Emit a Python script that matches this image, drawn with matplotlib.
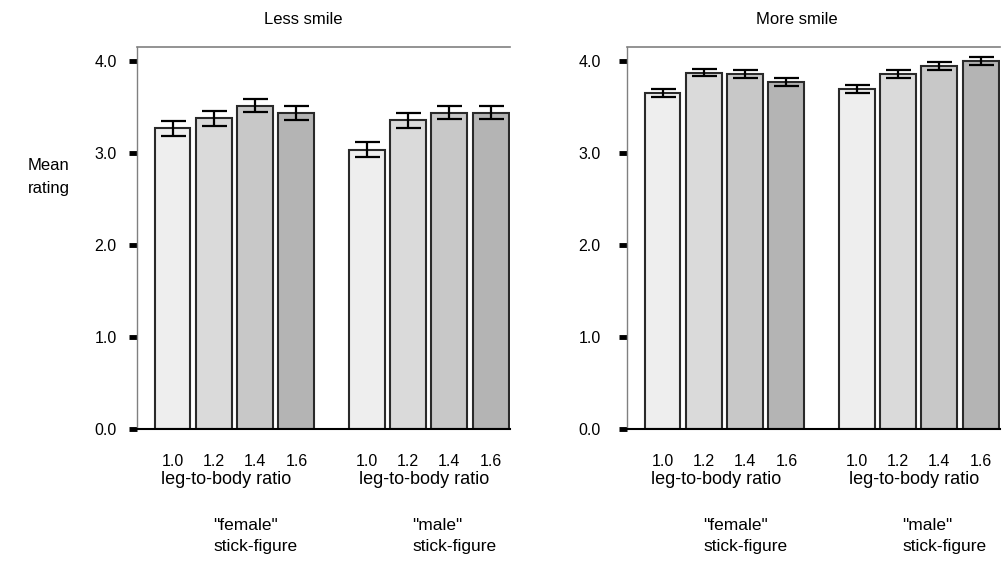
import matplotlib
matplotlib.use("Agg")
import matplotlib.pyplot as plt

plt.rcParams['font.family'] = ['Liberation Sans', 'DejaVu Sans']

# ---- data ----
ratios = ["1.0", "1.2", "1.4", "1.6"]
groups = ['"female"\nstick-figure', '"male"\nstick-figure']
panel_titles = ["Less smile", "More smile"]

less_female = [3.265, 3.375, 3.51, 3.43]
less_female_err = [0.08, 0.08, 0.07, 0.078]
less_male = [3.035, 3.355, 3.435, 3.435]
less_male_err = [0.078, 0.08, 0.072, 0.072]

more_female = [3.65, 3.87, 3.855, 3.77]
more_female_err = [0.045, 0.04, 0.043, 0.043]
more_male = [3.69, 3.855, 3.94, 4.0]
more_male_err = [0.045, 0.045, 0.043, 0.045]

yticks = [0.0, 1.0, 2.0, 3.0, 4.0]
bar_colors = ["#eeeeee", "#dadada", "#c8c8c8", "#b4b4b4"]

W, H = 1003, 561
fig = plt.figure(figsize=(W / 100, H / 100), dpi=100)

def fx(px):
    return px / W

def fy(py):
    return 1 - py / H

pos_f = [0, 1, 2, 3]
pos_m = [4.7, 5.7, 6.7, 7.7]

panels = [
    (137, less_female, less_female_err, less_male, less_male_err, 8.5),
    (627, more_female, more_female_err, more_male, more_male_err, 13),
]

for i, (x0, fv, fe, mv, me, ypad) in enumerate(panels):
    ax = fig.add_axes([fx(x0), fy(429), fx(373), (429 - 47) / H])
    for pos, vals, errs in ((pos_f, fv, fe), (pos_m, mv, me)):
        ax.bar(pos, vals, width=0.87, color=bar_colors, edgecolor="#2a2a2a",
               linewidth=1.5, zorder=2)
        ax.errorbar(pos, vals, yerr=errs, fmt="none", ecolor="black",
                    elinewidth=1.6, capsize=9, capthick=1.6, zorder=3)
    ax.set_xlim(-0.86, 8.17)
    ax.set_ylim(0, 4.15)
    ax.set_yticks(yticks)
    ax.set_yticklabels([f"{v:.1f}" for v in yticks])
    ax.set_xticks(pos_f + pos_m)
    ax.set_xticklabels(ratios + ratios)
    ax.tick_params(axis="y", direction="out", length=6, width=3.5,
                   color="black", pad=ypad, labelsize=11.5)
    ax.tick_params(axis="x", length=0, pad=18, labelsize=11.5)
    ax.spines["right"].set_visible(False)
    ax.spines["top"].set_color("#808080")
    ax.spines["top"].set_linewidth(1.2)
    ax.spines["left"].set_color("#808080")
    ax.spines["left"].set_linewidth(1.0)
    ax.spines["bottom"].set_color("black")
    ax.spines["bottom"].set_linewidth(1.5)

    off = x0 - 137
    fig.text(fx(303 + off + (4 if i else 0)), fy(20), panel_titles[i],
             ha="center", va="center", fontsize=12)
    fig.text(fx(226 + off), fy(480), "leg-to-body ratio",
             ha="center", va="center", fontsize=13)
    fig.text(fx(424 + off), fy(480), "leg-to-body ratio",
             ha="center", va="center", fontsize=13)
    fig.text(fx(213 + off), fy(536), groups[0], ha="left", va="center",
             fontsize=12.5, linespacing=1.45)
    fig.text(fx(412 + off), fy(536), groups[1], ha="left", va="center",
             fontsize=12.5, linespacing=1.45)

fig.text(fx(28), fy(177), "Mean\nrating", ha="left", va="center",
         fontsize=12, linespacing=1.65)

fig.savefig("out.png", dpi=100)
